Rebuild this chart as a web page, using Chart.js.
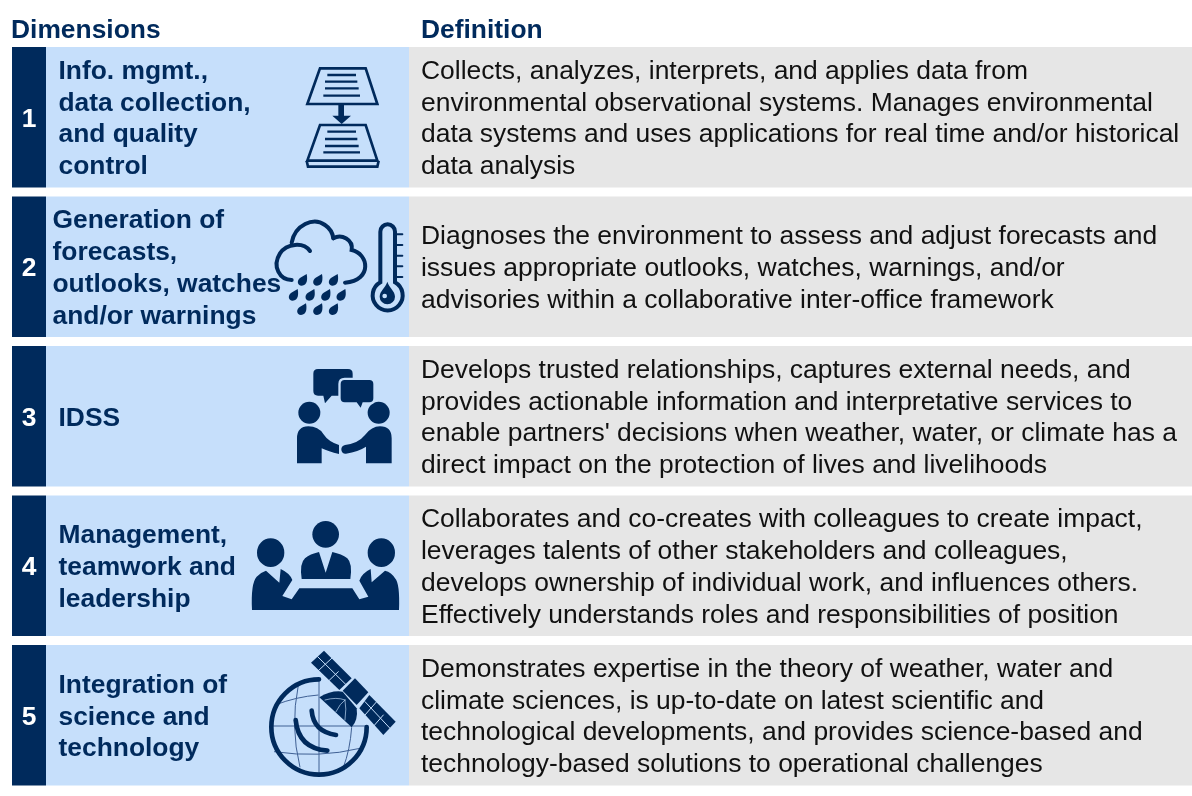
<!DOCTYPE html>
<html>
<head>
<meta charset="utf-8">
<title>Dimensions and definitions</title>
<script src="https://cdn.jsdelivr.net/npm/chart.js@4/dist/chart.umd.min.js"></script>
<style>
  html, body { margin: 0; padding: 0; background: #fff; overflow: hidden; }
  canvas { display: block; }
</style>
</head>
<body>
<canvas id="chartCanvas" width="1192" height="796"></canvas>
<script>
const rowNumbers = ["1", "2", "3", "4", "5"];
const headers = ["Dimensions", "Definition"];
const dimensionNames = [
  ["Info. mgmt.,", "data collection,", "and quality", "control"],
  ["Generation of", "forecasts,", "outlooks, watches", "and/or warnings"],
  ["IDSS"],
  ["Management,", "teamwork and", "leadership"],
  ["Integration of", "science and", "technology"],
];
const definitions = [
  ["Collects, analyzes, interprets, and applies data from",
   "environmental observational systems. Manages environmental",
   "data systems and uses applications for real time and/or historical",
   "data analysis"],
  ["Diagnoses the environment to assess and adjust forecasts and",
   "issues appropriate outlooks, watches, warnings, and/or",
   "advisories within a collaborative inter-office framework"],
  ["Develops trusted relationships, captures external needs, and",
   "provides actionable information and interpretative services to",
   "enable partners' decisions when weather, water, or climate has a",
   "direct impact on the protection of lives and livelihoods"],
  ["Collaborates and co-creates with colleagues to create impact,",
   "leverages talents of other stakeholders and colleagues,",
   "develops ownership of individual work, and influences others.",
   "Effectively understands roles and responsibilities of position"],
  ["Demonstrates expertise in the theory of weather, water and",
   "climate sciences, is up-to-date on latest scientific and",
   "technological developments, and provides science-based and",
   "technology-based solutions to operational challenges"],
];

const NAVY = "#002a5c";
const LIGHT = "#c6dffb";
const GREY = "#e6e6e6";
const FONT = '"Liberation Sans", Arial, sans-serif';
const LINE_HEIGHT = 31.8;
const TEXT_NUDGE = 2; // canvas middle baseline sits a bit high for this font

// helpers for the icons, each icon is drawn in its own zoomed up coordinates
const stroke = (ctx, d, w, color) => {
  ctx.lineWidth = w;
  ctx.strokeStyle = color || NAVY;
  ctx.stroke(new Path2D(d));
};
const fill = (ctx, d, color) => {
  ctx.fillStyle = color || NAVY;
  ctx.fill(new Path2D(d));
};
const dot = (ctx, x, y, r, color) => {
  ctx.fillStyle = color || NAVY;
  ctx.beginPath();
  ctx.arc(x, y, r, 0, Math.PI * 2);
  ctx.fill();
};

const drawBooks = (ctx) => {
  ctx.lineJoin = "miter";
  stroke(ctx, "M150 55 H287 L322 162 H112 Z", 8);
  stroke(ctx, "M172 75 H258 M165 95 H262 M165 115 H266 M160 137 H270", 7);
  fill(ctx, "M205 165 H222 V197 H243 L215 222 L187 197 H205 Z");
  stroke(ctx, "M150 225 H287 L322 332 H112 Z", 8);
  stroke(ctx, "M172 245 H258 M165 267 H262 M165 288 H266 M160 307 H270", 7);
  stroke(ctx, "M110 332 L114 350 H322 L326 332", 8);
};

const drawWeather = (ctx) => {
  ctx.lineCap = "round";
  stroke(ctx, "M120 603 C100 575 50 580 30 610 C5 650 30 690 65 690", 12);
  stroke(ctx, "M65 578 C75 525 130 500 165 525 C180 535 188 550 190 565", 12);
  stroke(ctx, "M190 565 C215 550 250 570 245 600 C295 610 310 690 225 698", 12);
  [[97, 690], [143, 690], [190, 690], [70, 735], [120, 735], [167, 735], [213, 735], [95, 778], [143, 778], [190, 778]]
    .forEach(([x, y]) => {
      fill(ctx, `M${x + 13} ${y - 18} C${x + 16} ${y - 2} ${x + 15} ${y + 16} ${x - 2} ${y + 17} C${x - 16} ${y + 17} ${x - 17} ${y} ${x - 6} ${y - 7} Z`);
    });
  stroke(ctx, "M331 697 V545 A21 21 0 0 1 375 545 V697 A45 45 0 1 1 331 697 Z", 12);
  stroke(ctx, "M380 553 H397 M380 585 H397 M380 617 H397 M380 649 H397 M380 681 H397", 6);
  fill(ctx, "M352 695 C358 715 375 722 375 740 A23 23 0 0 1 329 740 C329 722 346 715 352 695 Z");
  dot(ctx, 344, 738, 7, LIGHT);
};

const drawHandshake = (ctx) => {
  dot(ctx, 208, 188, 33);
  dot(ctx, 416, 188, 33);
  fill(ctx, "M171 340 V265 Q171 230 205 229 Q235 229 250 252 Q265 275 297 285 L297 312 Q265 305 245 295 V340 Z");
  fill(ctx, "M455 340 V265 Q455 229 420 229 Q395 229 375 255 Q355 280 315 285 Q303 288 304 300 Q306 312 318 311 Q355 305 378 290 V340 Z");
  fill(ctx, "M234 57 H324 Q338 57 338 71 V123 Q338 137 324 137 H275 L255 160 L250 137 H234 Q220 137 220 123 V71 Q220 57 234 57 Z");
  const bubble = "M314 90 H388 Q400 90 400 102 V145 Q400 157 388 157 H368 L362 173 L350 157 H314 Q302 157 302 145 V102 Q302 90 314 90 Z";
  stroke(ctx, bubble, 14, LIGHT);
  fill(ctx, bubble);
};

const drawMeeting = (ctx) => {
  dot(ctx, 257, 553, 40);
  fill(ctx, "M185 687 Q178 640 195 625 Q210 612 237 606 L257 668 L277 606 Q305 612 322 625 Q338 640 331 687 Z");
  ctx.fillStyle = NAVY;
  ctx.beginPath();
  ctx.ellipse(92, 608, 41, 43, 0, 0, Math.PI * 2);
  ctx.ellipse(424, 608, 41, 43, 0, 0, Math.PI * 2);
  ctx.fill();
  fill(ctx, "M36 780 Q32 700 50 680 Q62 667 78 662 L118 698 L122 657 Q150 670 157 690 L127 738 L155 748 L178 715 H337 L358 748 L385 740 L358 692 Q365 670 392 657 L395 697 L435 662 Q455 667 465 685 Q480 700 477 780 Z");
};

const drawSatellite = (ctx) => {
  ctx.lineCap = "butt";
  stroke(ctx, "M65 258 H345 M207 118 V400 M145 135 Q120 260 150 382 M305 262 Q300 330 280 382 M75 195 Q140 170 205 165 M72 335 Q207 355 330 325", 3, "#3f6094");
  ctx.lineCap = "round";
  ctx.lineWidth = 14;
  ctx.strokeStyle = NAVY;
  ctx.beginPath();
  ctx.arc(207, 261, 143, -Math.PI / 2, 0, true);
  ctx.stroke();
  stroke(ctx, "M185 212 Q190 275 258 285", 14);
  stroke(ctx, "M137 240 Q145 325 232 332", 14);
  fill(ctx, "M222 32 L183 68 L268 150 L305 115 Z");
  fill(ctx, "M315 115 L278 152 L320 195 L355 157 Z");
  fill(ctx, "M358 165 L328 205 L400 285 L437 245 Z");
  stroke(ctx, "M203 50 L287 133 M245 55 L205 92 M265 95 L225 133 M380 185 L345 225 M400 225 L365 265 M345 185 L420 265", 3, LIGHT);
  fill(ctx, "M208 172 Q245 150 278 155 L320 205 Q325 240 305 262 Z");
  stroke(ctx, "M225 180 Q260 170 285 180 M258 215 Q270 190 285 180 M285 240 Q290 205 285 180", 2, LIGHT);
};

// same order as the rows, with the origin of each icon drawing
const rowIcons = [
  { draw: drawBooks, x: 270, y: 50 },
  { draw: drawWeather, x: 270, y: 50 },
  { draw: drawHandshake, x: 240, y: 350 },
  { draw: drawMeeting, x: 240, y: 350 },
  { draw: drawSatellite, x: 250, y: 640 },
];

const rowIconsDraw = (ctx, i) => {
  const icon = rowIcons[i];
  ctx.save();
  ctx.translate(icon.x, icon.y);
  ctx.scale(1 / 3, 1 / 3);
  icon.draw(ctx);
  ctx.restore();
};

const tablePlugin = {
  id: "tableText",
  afterDatasetsDraw(chart) {
    const ctx = chart.ctx;
    const yScale = chart.scales.y;
    ctx.save();
    ctx.textBaseline = "middle";
    ctx.textAlign = "left";

    ctx.fillStyle = NAVY;
    ctx.font = `bold 26.4px ${FONT}`;
    ctx.fillText(headers[0], 11, 29 + TEXT_NUDGE);
    ctx.fillText(headers[1], 421, 29 + TEXT_NUDGE);

    rowNumbers.forEach((num, i) => {
      const cy = yScale.getPixelForValue(i) + TEXT_NUDGE;

      rowIconsDraw(ctx, i);

      ctx.textAlign = "center";
      ctx.fillStyle = "#ffffff";
      ctx.font = `bold 26.4px ${FONT}`;
      ctx.fillText(num, 29, cy);

      ctx.textAlign = "left";
      ctx.fillStyle = NAVY;
      const dim = dimensionNames[i];
      dim.forEach((line, k) => {
        const x = i === 1 ? 52.5 : 58.5;
        ctx.fillText(line, x, cy + (k - (dim.length - 1) / 2) * LINE_HEIGHT);
      });

      ctx.fillStyle = "#111111";
      ctx.font = `26.45px ${FONT}`;
      const def = definitions[i];
      def.forEach((line, k) => {
        ctx.fillText(line, 421, cy + (k - (def.length - 1) / 2) * LINE_HEIGHT);
      });
    });
    ctx.restore();
  },
};

const band = (from, to, color) => ({
  data: rowNumbers.map(() => [from, to]),
  backgroundColor: color,
  borderWidth: 0,
  grouped: false,
  categoryPercentage: 1,
  barPercentage: 0.94,
});

new Chart(document.getElementById("chartCanvas").getContext("2d"), {
  type: "bar",
  data: {
    labels: rowNumbers,
    datasets: [band(409, 1192, GREY), band(46, 409, LIGHT), band(12, 46, NAVY)],
  },
  options: {
    indexAxis: "y",
    responsive: false,
    animation: false,
    layout: { padding: { top: 42.5, bottom: 6, left: 0, right: 0 } },
    plugins: { legend: { display: false }, tooltip: { enabled: false } },
    scales: {
      x: { type: "linear", min: 0, max: 1192, display: false },
      y: { type: "category", display: false },
    },
  },
  plugins: [tablePlugin],
});
</script>
</body>
</html>
